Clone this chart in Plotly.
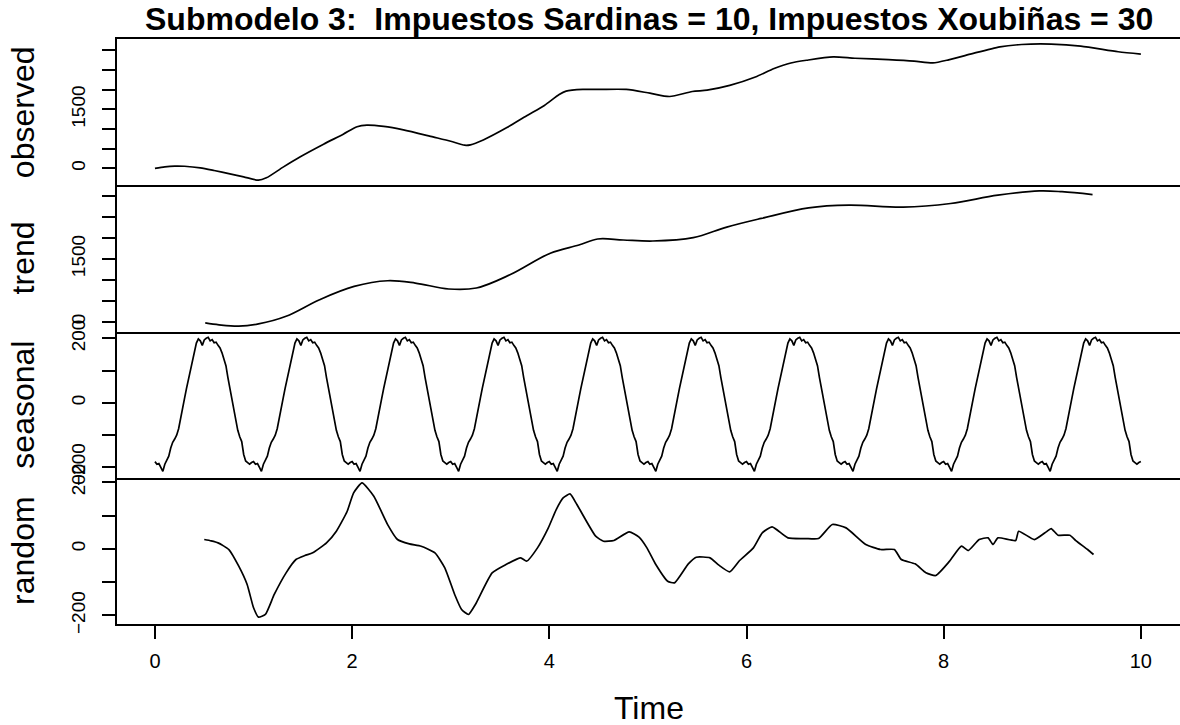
import numpy as np
import plotly.graph_objects as go
from plotly.subplots import make_subplots

# ---------------- data ----------------
obs_t = [0.0, 0.1, 0.2, 0.3, 0.46, 0.6, 0.76, 0.9, 1.05, 1.13, 1.3, 1.47, 1.71, 1.91,
         2.05, 2.15, 2.32, 2.52, 2.82, 3.0, 3.14, 3.2, 3.33, 3.57, 3.77, 3.95, 4.1, 4.17,
         4.34, 4.51, 4.78, 5.02, 5.22, 5.45, 5.6, 5.83, 6.09, 6.28, 6.45, 6.61, 6.88,
         7.1, 7.44, 7.7, 7.89, 8.05, 8.27, 8.57, 8.79, 9.09, 9.39, 9.77, 10.0]
obs_v = [0, 40, 59, 55, 15, -52, -138, -215, -300, -240, 33, 290, 615, 870,
         1060, 1100, 1067, 980, 800, 690, 590, 600, 725, 1040, 1340, 1600, 1880, 1965,
         2008, 2008, 2008, 1913, 1828, 1956, 1990, 2110, 2323, 2538, 2680, 2750, 2836,
         2800, 2768, 2730, 2682, 2760, 2905, 3092, 3150, 3160, 3110, 2965, 2905]

trend_t = [0.51, 0.65, 0.85, 1.05, 1.33, 1.67, 2.02, 2.36, 2.64, 2.98, 3.26, 3.6, 4.01,
           4.3, 4.49, 4.75, 5.05, 5.46, 5.8, 6.15, 6.63, 7.04, 7.59, 8.07, 8.55, 8.97,
           9.2, 9.51]
trend_v = [-25, -71, -104, -50, 133, 528, 844, 979, 924, 782, 806, 1121, 1635,
           1830, 1974, 1950, 1926, 2005, 2258, 2464, 2716, 2780, 2732, 2820, 3017, 3118,
           3100, 3033]

# one seasonal period (step 0.02 of a cycle)
season_period = [-182, -190, -188, -200, -212, -190, -177, -165, -140, -122,
                 -112, -100, -80, -45, -15, 14, 45, 75, 100, 130,
                 155, 185, 198, 192, 178, 195, 200, 203, 192, 196,
                 186, 188, 178, 170, 155, 135, 115, 78, 45, 10,
                 -25, -55, -85, -105, -120, -160, -180, -185, -190, -185]
n_cycles = 10

rand_t = [0.50, 0.57, 0.64, 0.75, 0.85, 0.935, 1.00, 1.05, 1.12, 1.21, 1.33, 1.43, 1.52,
          1.60, 1.74, 1.84, 1.95, 2.015, 2.10, 2.22, 2.36, 2.46, 2.58, 2.70, 2.84, 2.94,
          3.04, 3.11, 3.18, 3.25, 3.42, 3.56, 3.71, 3.77, 3.88, 3.99, 4.07, 4.14, 4.21,
          4.28, 4.47, 4.55, 4.655, 4.81, 4.91, 4.99, 5.08, 5.20, 5.27, 5.41, 5.49, 5.63,
          5.72, 5.83, 5.93, 6.07, 6.16, 6.26, 6.42, 6.60, 6.73, 6.87, 7.01, 7.21, 7.36,
          7.50, 7.57, 7.71, 7.82, 7.92, 8.06, 8.18, 8.25, 8.36, 8.45, 8.50, 8.55, 8.73,
          8.76, 8.92, 9.04, 9.09, 9.16, 9.28, 9.34, 9.46, 9.52]
rand_v = [28, 24, 18, -2, -52, -107, -177, -205, -197, -137, -72, -32, -20,
          -12, 18, 53, 113, 168, 198, 158, 73, 28, 15, 8, -12, -57,
          -137, -182, -197, -167, -72, -47, -27, -37, 3, 63, 118, 153, 165,
          133, 38, 23, 25, 51, 35, 3, -47, -97, -102, -45, -25, -27,
          -49, -69, -35, 3, 48, 66, 33, 31, 31, 73, 63, 13, -2,
          -2, -32, -45, -72, -80, -37, 8, -5, 28, 33, 13, 33, 25,
          53, 28, 51, 61, 41, 41, 25, -2, -17]

x_ticks = [0, 2, 4, 6, 8, 10]
obs_ticks = [0, 500, 1000, 1500, 2000, 2500, 3000]
obs_ticktext = ["0", "", "", "1500", "", "", ""]
trend_ticks = [0, 500, 1000, 1500, 2000, 2500, 3000]
trend_ticktext = ["0", "", "", "1500", "", "", ""]
seas_ticks = [-200, -100, 0, 100, 200]
seas_ticktext = ["\u2212200", "", "0", "", "200"]
rand_ticks = [-200, -100, 0, 100, 200]
rand_ticktext = ["\u2212200", "", "0", "", "200"]

title_text = "Submodelo 3:  Impuestos Sardinas = 10, Impuestos Xoubiñas = 30"
panel_names = ["observed", "trend", "seasonal", "random"]

# seasonal: periodic component repeated each cycle
seas_t = [c + i / len(season_period) for c in range(n_cycles) for i in range(len(season_period))] + [float(n_cycles)]
seas_v = season_period * n_cycles + [season_period[0]]

# ---------------- figure ----------------
FONT = "Liberation Sans, Arial, Helvetica, sans-serif"
fig = make_subplots(rows=4, cols=1, shared_xaxes=True, vertical_spacing=0)

fig.add_trace(go.Scatter(x=obs_t, y=obs_v, mode="lines", line=dict(color="black", width=1.7, shape="spline", smoothing=0.7)), row=1, col=1)
fig.add_trace(go.Scatter(x=trend_t, y=trend_v, mode="lines", line=dict(color="black", width=1.7, shape="spline", smoothing=1.0)), row=2, col=1)
fig.add_trace(go.Scatter(x=seas_t, y=seas_v, mode="lines", line=dict(color="black", width=1.7)), row=3, col=1)
fig.add_trace(go.Scatter(x=rand_t, y=rand_v, mode="lines", line=dict(color="black", width=1.7, shape="spline", smoothing=0.5)), row=4, col=1)

ranges = [[-428, 3290], [-230, 3254], [-232, 221], [-225.6, 213.5]]
tickvals = [obs_ticks, trend_ticks, seas_ticks, rand_ticks]
ticktexts = [obs_ticktext, trend_ticktext, seas_ticktext, rand_ticktext]
domains = [[0.75, 1.0], [0.5, 0.75], [0.25, 0.5], [0.0, 0.25]]

for i in range(4):
    ya = dict(range=ranges[i], domain=domains[i], tickmode="array",
              tickvals=tickvals[i], ticktext=ticktexts[i], tickangle=-90,
              ticks="outside", ticklen=13, tickwidth=1.5, tickcolor="black",
              ticklabelstandoff=10,
              showline=True, linecolor="black", linewidth=1.8, mirror=False,
              showgrid=False, zeroline=False,
              tickfont=dict(family=FONT, size=19, color="black"))
    fig.update_yaxes(ya, row=i + 1, col=1)
    xa = dict(range=[-0.385, 10.397], showline=True, linecolor="black", linewidth=2,
              mirror=(i == 0), showgrid=False, zeroline=False)
    if i == 3:
        xa.update(tickmode="array", tickvals=x_ticks, ticks="outside", ticklen=13,
                  tickwidth=1.5, tickcolor="black", showticklabels=True,
                  ticklabelstandoff=5,
                  tickfont=dict(family=FONT, size=20, color="black"))
    else:
        xa.update(ticks="", showticklabels=False)
    fig.update_xaxes(xa, row=i + 1, col=1)

annotations = []
for i, name in enumerate(panel_names):
    annotations.append(dict(text=name, xref="paper", yref="paper", x=0, xshift=-94,
                            y=(domains[i][0] + domains[i][1]) / 2, xanchor="center",
                            yanchor="middle", textangle=-90, showarrow=False,
                            font=dict(family=FONT, size=32, color="black")))
annotations.append(dict(text="Time", xref="paper", yref="paper", x=0.5, y=-0.143,
                        xanchor="center", yanchor="middle", showarrow=False,
                        font=dict(family=FONT, size=32, color="black")))
annotations.append(dict(text="<b>" + title_text + "</b>", xref="paper", yref="paper",
                        x=0.5, y=1.034, xanchor="center", yanchor="middle", showarrow=False,
                        font=dict(family=FONT, size=32, color="black")))

fig.update_layout(width=1180, height=725, margin=dict(l=117, r=0, t=39, b=101),
                  paper_bgcolor="white", plot_bgcolor="white", showlegend=False,
                  annotations=annotations)

fig.write_html("out.html")
